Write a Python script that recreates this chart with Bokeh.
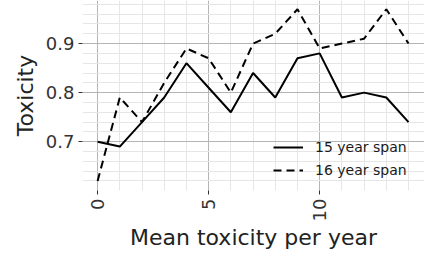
import math
from bokeh.plotting import figure
from bokeh.models import SingleIntervalTicker, Range1d, Legend, LegendItem
from bokeh.embed import file_html
from bokeh.resources import INLINE

years = list(range(15))
span15 = [0.70, 0.69, 0.74, 0.79, 0.86, 0.81, 0.76, 0.84, 0.79, 0.87, 0.88, 0.79, 0.80, 0.79, 0.74]
span16 = [0.62, 0.79, 0.74, 0.82, 0.89, 0.87, 0.80, 0.90, 0.92, 0.97, 0.89, 0.90, 0.91, 0.97, 0.90]
labels = ["15 year span", "16 year span"]

p = figure(width=424, height=255, output_backend="svg", toolbar_location=None,
           x_range=Range1d(-0.68, 14.72), y_range=Range1d(0.6005, 0.9878),
           min_border_left=82, min_border_right=0, min_border_top=0, min_border_bottom=65)
p.outline_line_color = None
p.background_fill_color = "white"
p.border_fill_color = "white"

xt = SingleIntervalTicker(interval=5, num_minor_ticks=5)
yt = SingleIntervalTicker(interval=0.1, num_minor_ticks=5)
p.xaxis.ticker = xt
p.xgrid.ticker = xt
p.yaxis.ticker = yt
p.ygrid.ticker = yt

for g in (p.xgrid, p.ygrid):
    g.grid_line_color = "#b5b5b5"
    g.grid_line_width = 1
    g.minor_grid_line_color = "#e6e6e6"
    g.minor_grid_line_width = 1

for ax in (p.xaxis, p.yaxis):
    ax.axis_line_color = None
    ax.major_tick_line_color = "#333333"
    ax.major_tick_out = 4
    ax.major_tick_in = 0
    ax.minor_tick_line_color = None
    ax.major_label_text_font = "DejaVu Sans"
    ax.major_label_text_font_size = "18px"
    ax.major_label_text_color = "#333333"
    ax.axis_label_text_font = "DejaVu Sans"
    ax.axis_label_text_font_size = "22px"
    ax.axis_label_text_font_style = "normal"
    ax.axis_label_text_color = "#222222"
    ax.major_label_standoff = 4

p.xaxis.axis_label = "Mean toxicity per year"
p.yaxis.axis_label = "Toxicity"
p.xaxis.major_label_orientation = math.pi / 2
p.xaxis.axis_label_standoff = 1
p.yaxis.axis_label_standoff = 5

r1 = p.line(years, span15, line_color="black", line_width=2)
r2 = p.line(years, span16, line_color="black", line_width=2, line_dash="8 5")

legend = Legend(items=[LegendItem(label=labels[0], renderers=[r1]),
                       LegendItem(label=labels[1], renderers=[r2])],
                location=(191, 10))
legend.margin = 0
legend.padding = 5
legend.spacing = 3
legend.glyph_width = 30
legend.glyph_height = 20
legend.label_standoff = 12
legend.label_text_font = "DejaVu Sans"
legend.label_text_font_size = "14px"
legend.label_text_color = "#1a1a1a"
legend.background_fill_alpha = 0
legend.border_line_color = None
p.add_layout(legend, "center")

open("out.html", "w").write(file_html(p, INLINE))
